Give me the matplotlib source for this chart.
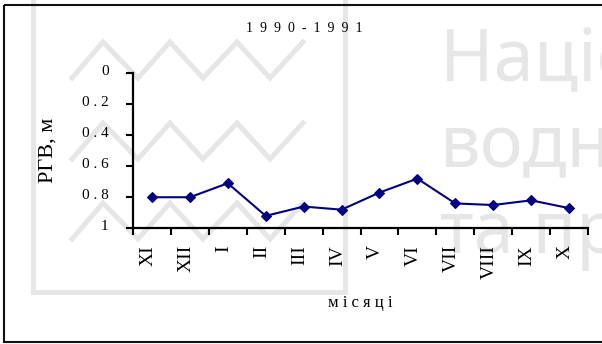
import matplotlib
matplotlib.use('Agg')
import matplotlib.pyplot as plt
import matplotlib.transforms as mtransforms
from matplotlib.patches import Rectangle
import numpy as np

# 0. Data
months = ['XI', 'XII', 'I', 'II', 'III', 'IV', 'V', 'VI', 'VII', 'VIII', 'IX', 'X']
rgv = [0.80, 0.80, 0.71, 0.92, 0.86, 0.88, 0.77, 0.68, 0.84, 0.85, 0.82, 0.87]
y_ticks = [0, 0.2, 0.4, 0.6, 0.8, 1]
y_tick_labels = ['0', '0 . 2', '0 . 4', '0 . 6', '0 . 8', '1']
title = '1  9  9  0  -  1  9  9  1'
x_title = 'м і с я ц і'
y_title = 'РГВ, м'
watermark_lines = ['Національний', 'водного', 'та природо']

# 1. Style
plt.rcParams.update({
    'font.family': ['Liberation Serif', 'DejaVu Serif'],
    'font.size': 11,
})
C_LINE = '#000080'
C_WM = '#e6e6e6'

W, H = 602, 344
fig = plt.figure(figsize=(W / 100, H / 100), dpi=100)

# 2. Background: watermark + outer frame (pixel coordinates)
bg = fig.add_axes([0, 0, 1, 1], zorder=0)
bg.set_xlim(0, W)
bg.set_ylim(H, 0)
bg.axis('off')
bg.add_patch(Rectangle((33, -20), 312, 312, fill=False, edgecolor=C_WM,
                       linewidth=3.6, clip_on=False))
zig_x = [72, 103, 138, 170, 203, 237, 270, 303]
for top, bot in [(42, 78), (123, 159), (203, 239)]:
    zig_y = [bot if i % 2 == 0 else top for i in range(len(zig_x))]
    bg.plot(zig_x, zig_y, color=C_WM, linewidth=3.6, solid_joinstyle='miter')
for txt, base in zip(watermark_lines, [80, 167, 253]):
    bg.text(440, base, txt, fontsize=52, color=C_WM, va='baseline',
            ha='left', family=['Noto Sans', 'DejaVu Sans'])
bg.add_patch(Rectangle((4, 5), 640, 337, fill=False, edgecolor='#111111',
                       linewidth=1.5, clip_on=False))

# 3. Chart
ax = fig.add_axes([133 / W, 1 - 228.3 / H, 455 / W, 155.3 / H], zorder=2)
ax.patch.set_visible(False)
x = np.arange(len(months))
ax.plot(x, rgv, color=C_LINE, linewidth=1.5, marker='D', markersize=5,
        markeredgecolor=C_LINE, markeredgewidth=0.8, zorder=3)

ax.set_xlim(-0.5, len(months) - 0.5)
ax.set_ylim(1, 0)
for s in ['top', 'right']:
    ax.spines[s].set_visible(False)
for s in ['left', 'bottom']:
    ax.spines[s].set_linewidth(1.6)

# x: labels at category centres, tick marks between categories
ax.set_xticks(x)
ax.set_xticklabels(months, rotation=90, fontsize=14, va='top')
ax.set_xticks(np.arange(-0.5, len(months)), minor=True)
ax.tick_params(axis='x', which='major', length=0, pad=12)
ax.tick_params(axis='x', which='minor', length=5, width=1.5, direction='out')
off_x = mtransforms.ScaledTranslation(-4 / 100, 0, fig.dpi_scale_trans)
for lab in ax.get_xticklabels():
    lab.set_transform(lab.get_transform() + off_x)

# y
ax.set_yticks(y_ticks)
ax.set_yticklabels(y_tick_labels, fontsize=11)
ax.tick_params(axis='y', length=5, width=1.5, direction='out', pad=12.5)
off_y = mtransforms.ScaledTranslation(0, 3 / 100, fig.dpi_scale_trans)
for lab in ax.get_yticklabels():
    lab.set_transform(lab.get_transform() + off_y)

# Titles
fig.text(304 / W, 1 - 29 / H, title, fontsize=10, ha='center', va='center')
fig.text(48 / W, 1 - 150 / H, y_title, fontsize=16, rotation=90,
         ha='center', va='center')
fig.text(360 / W, 1 - 303 / H, x_title, fontsize=12, ha='center', va='center')

fig.savefig('out.png', dpi=100)
